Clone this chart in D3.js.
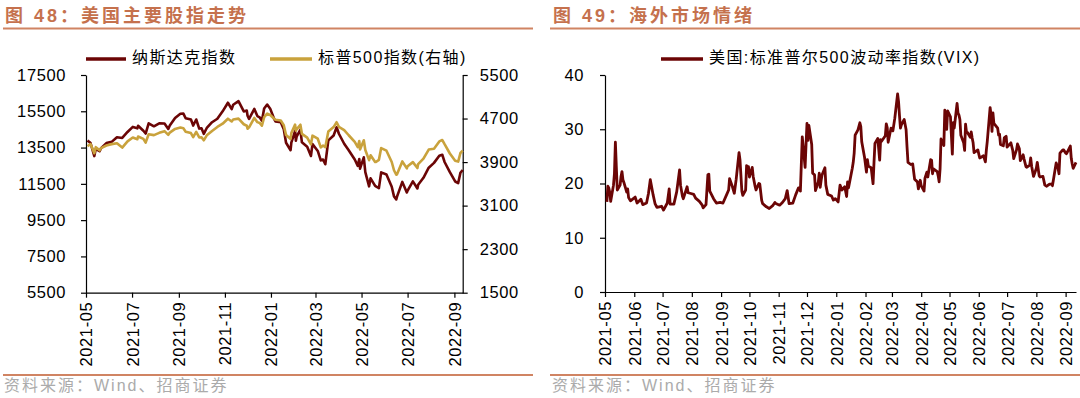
<!DOCTYPE html>
<html><head><meta charset="utf-8">
<script src="https://cdn.jsdelivr.net/npm/d3@7"></script>
<style>
html,body{margin:0;padding:0;background:#fff;}
svg{display:block;}
text{font-family:"Liberation Sans",Arial,"Noto Sans CJK SC",sans-serif;}
</style></head>
<body>
<svg id="c" width="1080" height="398"></svg>
<script>
// ---------- DATA ----------
const stockDates = ["2021-05-03","2021-05-07","2021-05-12","2021-05-14","2021-05-19","2021-05-21","2021-05-28","2021-06-04","2021-06-11","2021-06-18","2021-06-25","2021-07-02","2021-07-08","2021-07-09","2021-07-16","2021-07-19","2021-07-23","2021-07-30","2021-08-06","2021-08-13","2021-08-18","2021-08-20","2021-08-27","2021-09-03","2021-09-07","2021-09-10","2021-09-17","2021-09-20","2021-09-24","2021-09-28","2021-10-01","2021-10-04","2021-10-08","2021-10-15","2021-10-22","2021-10-29","2021-11-05","2021-11-10","2021-11-12","2021-11-19","2021-11-26","2021-11-30","2021-12-01","2021-12-03","2021-12-10","2021-12-14","2021-12-17","2021-12-20","2021-12-23","2021-12-27","2021-12-31","2022-01-05","2022-01-07","2022-01-14","2022-01-18","2022-01-21","2022-01-27","2022-01-28","2022-02-02","2022-02-03","2022-02-04","2022-02-09","2022-02-11","2022-02-18","2022-02-23","2022-02-25","2022-03-04","2022-03-08","2022-03-11","2022-03-14","2022-03-18","2022-03-25","2022-03-29","2022-04-01","2022-04-08","2022-04-14","2022-04-22","2022-04-26","2022-04-28","2022-04-29","2022-05-04","2022-05-06","2022-05-11","2022-05-13","2022-05-19","2022-05-20","2022-05-24","2022-05-27","2022-06-03","2022-06-10","2022-06-13","2022-06-16","2022-06-17","2022-06-24","2022-06-30","2022-07-01","2022-07-08","2022-07-14","2022-07-15","2022-07-22","2022-07-29","2022-08-05","2022-08-12","2022-08-16","2022-08-19","2022-08-26","2022-09-02","2022-09-06","2022-09-09","2022-09-12"];
const nasdaq = [13895,13752,13032,13430,13300,13471,13748,13814,14069,14030,14360,14639,14560,14701,14427,14275,14837,14673,14835,14823,14526,14715,15130,15364,15374,15115,15044,14714,15048,14547,14567,14255,14580,14897,15090,15498,15971,15622,15861,16057,15491,15538,15254,15085,15630,15238,15170,14980,15653,15871,15645,15100,14936,14894,14506,13768,13353,13770,14417,13879,14098,14490,13791,13548,13038,13694,13313,12796,12843,12581,13894,14169,14620,14261,13711,13351,12839,12491,12872,12335,12964,12145,11364,11805,11389,11355,11264,12131,12013,11341,10809,10646,10798,11608,11029,11128,11635,11247,11452,11834,12391,12657,13047,13103,12705,12142,11631,11544,12112,12266];
const spx = [4192,4232,4063,4174,4116,4156,4204,4230,4247,4166,4281,4352,4320,4370,4327,4258,4412,4395,4437,4468,4400,4442,4509,4535,4520,4459,4433,4358,4455,4353,4357,4300,4391,4471,4545,4605,4697,4646,4683,4698,4595,4567,4513,4538,4712,4634,4620,4568,4725,4791,4766,4700,4677,4663,4577,4398,4326,4432,4589,4477,4500,4587,4419,4349,4226,4385,4329,4170,4204,4173,4463,4543,4632,4546,4488,4393,4272,4175,4288,4132,4300,4123,3935,4024,3901,3901,3941,4158,4109,3901,3750,3667,3675,3912,3785,3825,3899,3790,3863,3962,4130,4145,4280,4305,4228,4058,3924,3909,4067,4110];

const vixDates = ["2021-05-03","2021-05-04","2021-05-05","2021-05-06","2021-05-07","2021-05-10","2021-05-11","2021-05-12","2021-05-13","2021-05-14","2021-05-17","2021-05-18","2021-05-19","2021-05-20","2021-05-21","2021-05-24","2021-05-25","2021-05-26","2021-05-28","2021-06-02","2021-06-04","2021-06-08","2021-06-10","2021-06-14","2021-06-16","2021-06-18","2021-06-21","2021-06-23","2021-06-25","2021-06-30","2021-07-02","2021-07-06","2021-07-08","2021-07-09","2021-07-13","2021-07-16","2021-07-19","2021-07-20","2021-07-22","2021-07-23","2021-07-27","2021-07-28","2021-07-30","2021-08-03","2021-08-05","2021-08-09","2021-08-12","2021-08-13","2021-08-16","2021-08-18","2021-08-19","2021-08-20","2021-08-24","2021-08-27","2021-08-31","2021-09-03","2021-09-07","2021-09-09","2021-09-10","2021-09-13","2021-09-15","2021-09-17","2021-09-20","2021-09-21","2021-09-23","2021-09-24","2021-09-27","2021-09-28","2021-09-29","2021-09-30","2021-10-01","2021-10-04","2021-10-05","2021-10-07","2021-10-08","2021-10-11","2021-10-12","2021-10-14","2021-10-15","2021-10-19","2021-10-22","2021-10-26","2021-10-28","2021-10-29","2021-11-02","2021-11-05","2021-11-08","2021-11-10","2021-11-12","2021-11-16","2021-11-19","2021-11-22","2021-11-24","2021-11-26","2021-11-29","2021-11-30","2021-12-01","2021-12-02","2021-12-03","2021-12-06","2021-12-07","2021-12-09","2021-12-10","2021-12-13","2021-12-14","2021-12-15","2021-12-16","2021-12-17","2021-12-20","2021-12-21","2021-12-23","2021-12-27","2021-12-29","2021-12-31","2022-01-03","2022-01-05","2022-01-07","2022-01-10","2022-01-12","2022-01-13","2022-01-14","2022-01-18","2022-01-19","2022-01-20","2022-01-21","2022-01-24","2022-01-26","2022-01-27","2022-01-28","2022-01-31","2022-02-02","2022-02-03","2022-02-04","2022-02-07","2022-02-09","2022-02-10","2022-02-11","2022-02-14","2022-02-16","2022-02-17","2022-02-18","2022-02-22","2022-02-23","2022-02-24","2022-02-25","2022-02-28","2022-03-02","2022-03-04","2022-03-07","2022-03-08","2022-03-09","2022-03-10","2022-03-11","2022-03-14","2022-03-16","2022-03-17","2022-03-18","2022-03-21","2022-03-23","2022-03-25","2022-03-28","2022-03-29","2022-03-31","2022-04-01","2022-04-04","2022-04-05","2022-04-07","2022-04-08","2022-04-11","2022-04-12","2022-04-13","2022-04-14","2022-04-18","2022-04-19","2022-04-20","2022-04-21","2022-04-22","2022-04-25","2022-04-26","2022-04-27","2022-04-28","2022-04-29","2022-05-02","2022-05-04","2022-05-05","2022-05-06","2022-05-09","2022-05-10","2022-05-11","2022-05-12","2022-05-13","2022-05-16","2022-05-17","2022-05-18","2022-05-19","2022-05-20","2022-05-23","2022-05-24","2022-05-25","2022-05-26","2022-05-27","2022-05-31","2022-06-02","2022-06-03","2022-06-06","2022-06-08","2022-06-09","2022-06-10","2022-06-13","2022-06-14","2022-06-15","2022-06-16","2022-06-17","2022-06-21","2022-06-22","2022-06-23","2022-06-24","2022-06-27","2022-06-28","2022-06-30","2022-07-01","2022-07-05","2022-07-07","2022-07-08","2022-07-11","2022-07-12","2022-07-14","2022-07-15","2022-07-18","2022-07-19","2022-07-21","2022-07-22","2022-07-25","2022-07-26","2022-07-27","2022-07-29","2022-08-01","2022-08-02","2022-08-04","2022-08-05","2022-08-08","2022-08-10","2022-08-12","2022-08-15","2022-08-17","2022-08-18","2022-08-19","2022-08-22","2022-08-24","2022-08-25","2022-08-26","2022-08-29","2022-08-30","2022-08-31","2022-09-01","2022-09-02","2022-09-06","2022-09-07","2022-09-08","2022-09-09","2022-09-12"];
const vix = [16.6,19.5,19.2,18.4,16.7,19.7,21.8,27.6,23.1,18.8,19.7,21.3,22.2,20.7,20.2,18.4,19.0,17.4,16.8,17.5,16.4,17.1,16.1,16.4,18.1,20.7,17.9,16.3,15.6,15.8,15.1,16.4,19.0,16.2,16.2,18.5,22.5,19.7,17.7,17.2,19.4,18.3,18.2,18.0,17.3,16.7,16.0,15.5,16.1,21.6,21.7,18.6,17.2,16.4,16.5,16.4,18.0,18.8,20.9,19.4,18.2,20.8,25.7,24.4,18.6,17.8,18.8,23.3,22.6,23.1,21.2,22.96,21.3,19.5,18.8,20.0,19.9,16.9,16.3,15.7,15.4,15.98,16.5,16.3,16.0,16.5,17.2,18.7,16.3,16.4,17.9,19.2,18.6,28.6,22.96,27.2,31.1,27.95,30.7,27.2,21.9,21.6,18.7,20.3,21.9,19.3,20.6,21.6,22.9,19.7,18.0,17.7,16.95,17.2,16.6,19.7,18.8,19.4,17.6,20.3,19.2,22.8,23.9,25.6,28.9,29.9,31.2,30.5,27.7,24.8,22.1,24.4,23.2,22.9,19.96,23.9,27.4,28.3,24.3,28.1,27.8,28.8,31.0,30.3,27.6,30.2,29.7,32.0,36.5,35.1,32.5,30.2,30.8,31.8,29.9,26.7,23.9,23.5,23.6,20.8,20.3,19.0,20.6,19.6,18.6,21.0,22.1,21.2,24.4,24.3,21.8,22.7,22.2,21.4,20.3,22.7,28.2,27.0,33.5,31.6,29.99,33.4,32.3,25.4,31.2,30.2,34.75,32.99,32.6,31.8,28.9,27.5,26.1,30.96,29.4,29.4,28.5,29.5,28.4,27.5,25.7,26.2,24.7,24.8,25.1,24.0,26.1,27.75,34.0,32.7,29.6,33.0,31.1,30.2,28.95,29.1,27.2,26.95,28.4,28.7,26.7,27.5,26.1,24.6,26.2,27.3,26.4,24.2,25.3,24.5,23.1,23.0,23.4,24.7,23.2,21.3,22.8,23.9,21.4,21.2,21.3,19.7,19.5,19.9,19.9,19.6,20.6,23.8,22.8,21.8,25.6,26.2,26.2,25.9,25.6,25.5,26.9,24.6,23.6,22.8,23.9];

const leftTicks = [5500,7500,9500,11500,13500,15500,17500];
const rightTicks = [1500,2300,3100,3900,4700,5500];
const vixTicks = [0,10,20,30,40];
const leftXTicks = ["2021-05","2021-07","2021-09","2021-11","2022-01","2022-03","2022-05","2022-07","2022-09"];
const rightXTicks = ["2021-05","2021-06","2021-07","2021-08","2021-09","2021-10","2021-11","2021-12","2022-01","2022-02","2022-03","2022-04","2022-05","2022-06","2022-07","2022-08","2022-09"];
const xDomain = ["2021-05-01","2022-09-12"];

const title1 = "图 48：美国主要股指走势";
const title2 = "图 49：海外市场情绪";
const legend1 = ["纳斯达克指数","标普500指数(右轴)"];
const legend2 = "美国:标准普尔500波动率指数(VIX)";
const source = "资料来源：Wind、招商证券";

// ---------- DRAW ----------
const svg = d3.select("#c");
const pd = d3.timeParse("%Y-%m-%d");
const pm = d3.timeParse("%Y-%m");
const fmtM = d3.timeFormat("%Y-%m");
const fmtN = d3.format("d");
const RED = "#6B0505", GOLD = "#C9A23C", TITLE = "#C5714D", RULE = "#D08463";
const tickFont = "16.5px";

function headerFooter(x0, x1, tx, title){
  svg.append("text").attr("x", tx).attr("y", 22).attr("fill", TITLE)
    .attr("font-size", "18px").attr("font-weight", "bold").attr("letter-spacing", "3px")
    .style("font-family", '"Liberation Sans","Noto Sans CJK SC",sans-serif').text(title);
  svg.append("line").attr("x1", x0).attr("x2", x1).attr("y1", 28.5).attr("y2", 28.5)
    .attr("stroke", RULE).attr("stroke-width", 2);
  svg.append("line").attr("x1", x0).attr("x2", x1).attr("y1", 375).attr("y2", 375)
    .attr("stroke", RULE).attr("stroke-width", 2);
  svg.append("text").attr("x", tx - 1).attr("y", 387).attr("dominant-baseline", "middle")
    .attr("fill", "#ABABAB").attr("font-size", "16px").attr("letter-spacing", "2px")
    .style("font-family", '"Liberation Sans","Noto Sans CJK SC",sans-serif').text(source);
}
headerFooter(3, 533, 5, title1);
headerFooter(550, 1080, 553, title2);

function styleAxis(g){
  g.select(".domain").attr("stroke", "#000").attr("stroke-width", 1.2);
  g.selectAll(".tick line").attr("stroke", "#000").attr("stroke-width", 1.2);
  g.selectAll(".tick text").attr("fill", "#000").attr("font-size", tickFont)
    .attr("letter-spacing", "0.6px")
    .style("font-family", '"Liberation Sans",Arial,sans-serif');
}
function xAxis(x, y0, ticks){
  const g = svg.append("g").attr("transform", `translate(0,${y0})`)
    .call(d3.axisBottom(x).tickValues(ticks.map(pm)).tickFormat(fmtM).tickSize(5).tickSizeOuter(0));
  styleAxis(g);
  g.selectAll(".tick text").attr("transform", "rotate(-90)").attr("text-anchor", "end")
    .attr("x", -9).attr("y", 0).attr("dy", "0.36em");
  return g;
}
function legendItem(x, y, color, label, w){
  svg.append("line").attr("x1", x).attr("x2", x + w).attr("y1", y).attr("y2", y)
    .attr("stroke", color).attr("stroke-width", 3.5);
  svg.append("text").attr("x", x + w + 6).attr("y", y).attr("dominant-baseline", "middle")
    .attr("font-size", "16px").attr("letter-spacing", "1.4px").attr("fill", "#000")
    .style("font-family", '"Liberation Sans","Noto Sans CJK SC",sans-serif').text(label);
}

// ---- Left chart ----
const xL = d3.scaleTime().domain(xDomain.map(pd)).range([86, 462.7]);
const yL = d3.scaleLinear().domain([5500, 17500]).range([292.7, 75]);
const yR = d3.scaleLinear().domain([1500, 5500]).range([292.7, 75]);
const dates = stockDates.map(pd);

const gl = svg.append("g").attr("transform", "translate(86,0)")
  .call(d3.axisLeft(yL).tickValues(leftTicks).tickFormat(fmtN).tickSize(5).tickSizeOuter(0));
styleAxis(gl);
gl.selectAll(".tick text").attr("x", -20);
const gr = svg.append("g").attr("transform", "translate(462.7,0)")
  .call(d3.axisRight(yR).tickValues(rightTicks).tickFormat(fmtN).tickSize(5).tickSizeOuter(0));
styleAxis(gr);
gr.selectAll(".tick text").attr("x", 17);
xAxis(xL, 292.7, leftXTicks);

const lineN = d3.line().x((d, i) => xL(dates[i])).y(d => yL(d));
const lineS = d3.line().x((d, i) => xL(dates[i])).y(d => yR(d));
svg.append("path").datum(nasdaq).attr("d", lineN).attr("fill", "none")
  .attr("stroke", RED).attr("stroke-width", 2.6).attr("stroke-linejoin", "round");
svg.append("path").datum(spx).attr("d", lineS).attr("fill", "none")
  .attr("stroke", GOLD).attr("stroke-width", 2.6).attr("stroke-linejoin", "round");

legendItem(86, 59, RED, legend1[0], 40);
legendItem(270, 59, GOLD, legend1[1], 42);

// ---- Right chart ----
const xV = d3.scaleTime().domain(xDomain.map(pd)).range([605, 1076]);
const yV = d3.scaleLinear().domain([0, 40]).range([292, 75]);
const gv = svg.append("g").attr("transform", "translate(605,0)")
  .call(d3.axisLeft(yV).tickValues(vixTicks).tickFormat(fmtN).tickSize(5).tickSizeOuter(0));
styleAxis(gv);
gv.selectAll(".tick text").attr("x", -21);
xAxis(xV, 292, rightXTicks);

const vd = vixDates.map(pd);
const lineV = d3.line().x((d, i) => xV(vd[i])).y(d => yV(d));
svg.append("path").datum(vix).attr("d", lineV).attr("fill", "none")
  .attr("stroke", RED).attr("stroke-width", 2.8).attr("stroke-linejoin", "round");

legendItem(661, 59, RED, legend2, 42);
</script>
</body></html>
